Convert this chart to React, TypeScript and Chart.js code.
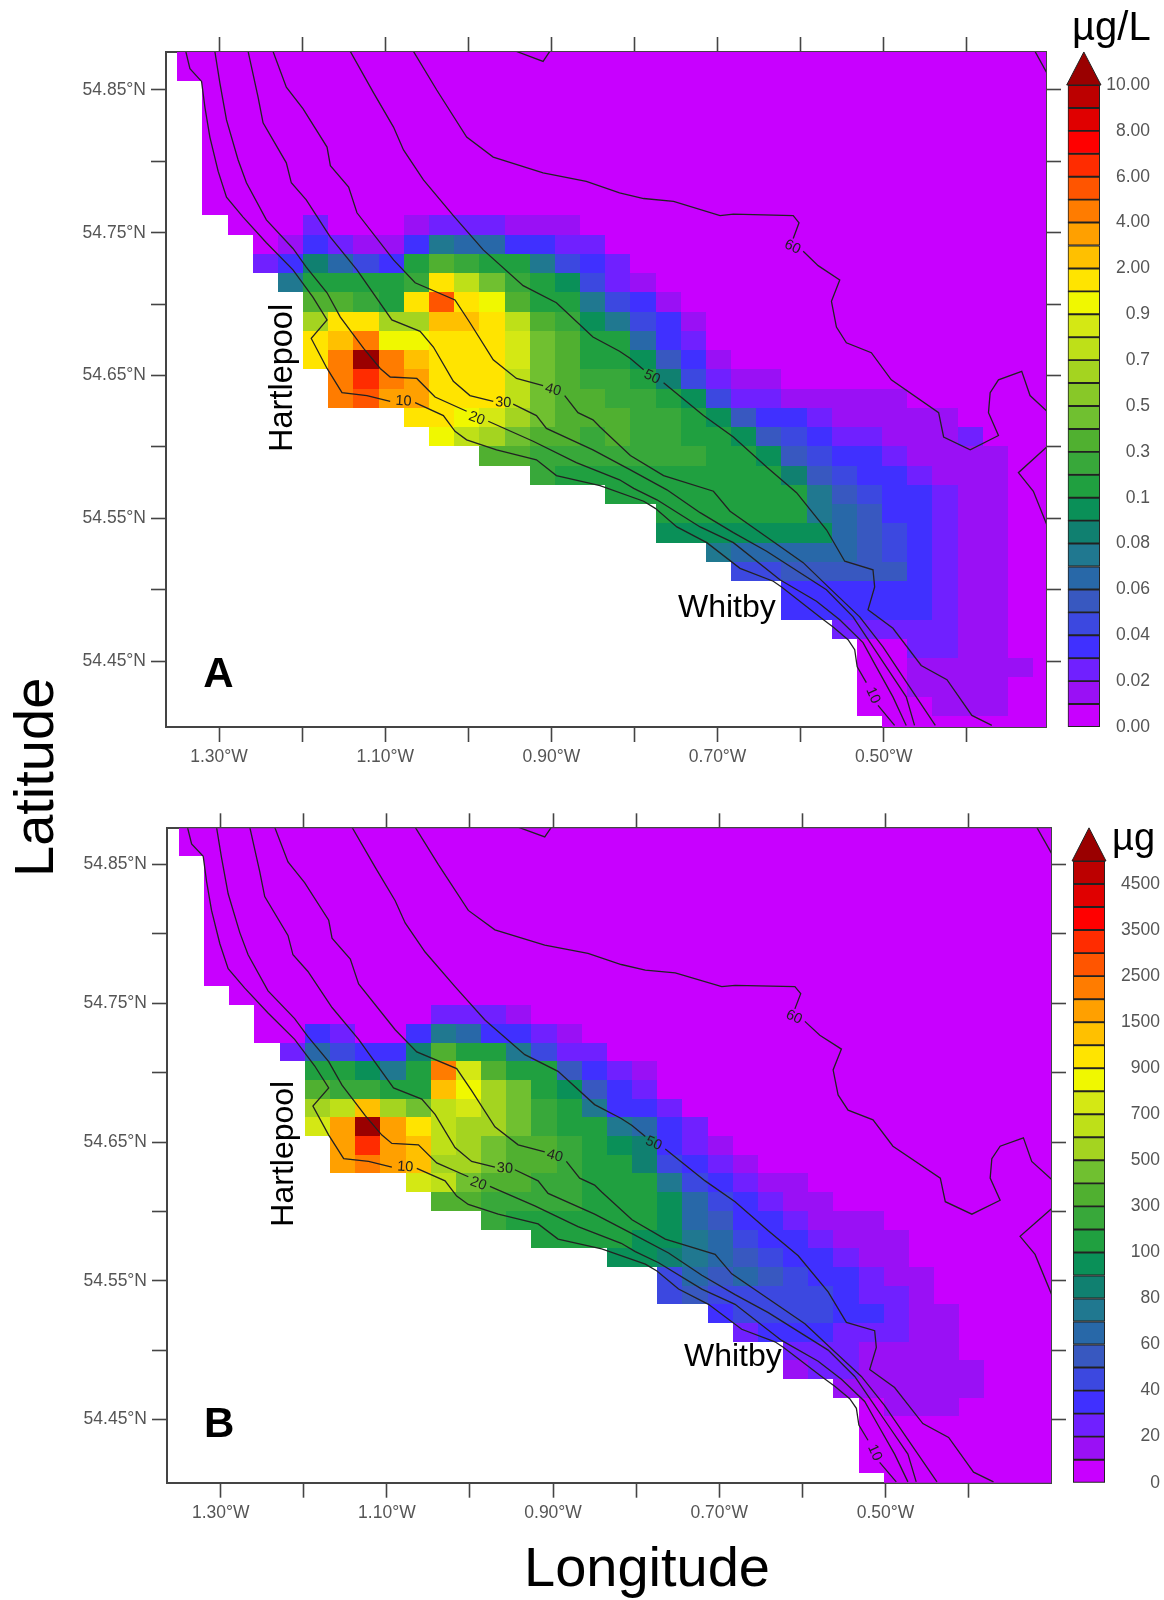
import React, { useEffect, useRef } from 'react';
import { Chart, registerables } from 'chart.js';

Chart.register(...registerables);

const FONT = "'Liberation Sans', Arial, sans-serif";

// Colour levels, lowest to highest; the last one is the over-range arrow.
const levelCodes = '0123456789abcdxefghijklmnopqr';
const levelColors = [
  '#c800ff', '#9a10f5', '#7020ff', '#4030ff', '#3c48e0', '#3858c0', '#2868a8', '#207890', '#108070',
  '#0a9058', '#20a040', '#38a83a', '#50b030', '#70c030', '#88c828', '#a4d420', '#bee018', '#d4e814',
  '#f0f800', '#ffe400', '#ffc000', '#ffa000', '#ff7c00', '#ff5500', '#ff2c00', '#ff0000', '#e00000',
  '#bc0000', '#9a0000',
];

const lonTicks = [-1.3, -1.2, -1.1, -1.0, -0.9, -0.8, -0.7, -0.6, -0.5, -0.4];
const lonLabels = ['1.30°W', '', '1.10°W', '', '0.90°W', '', '0.70°W', '', '0.50°W', ''];
const latTicks = [54.45, 54.5, 54.55, 54.6, 54.65, 54.7, 54.75, 54.8, 54.85];
const latLabels = ['54.45°N', '', '54.55°N', '', '54.65°N', '', '54.75°N', '', '54.85°N'];

const legendLabelsA = ['0.00', '0.02', '0.04', '0.06', '0.08', '0.1', '0.3', '0.5', '0.7', '0.9', '2.00', '4.00', '6.00', '8.00', '10.00'];
const legendLabelsB = ['0', '20', '40', '60', '80', '100', '300', '500', '700', '900', '1500', '2500', '3500', '4500'];
const legendBandsA = [0, 1, 2, 3, 4, 5, 6, 7, 8, 9, 10, 11, 12, 13, 14, 15, 16, 17, 18, 19, 20, 21, 22, 23, 24, 25, 26, 27];
const legendBandsB = [0, 1, 2, 3, 4, 5, 6, 7, 8, 9, 10, 11, 12, 13, 15, 16, 17, 18, 19, 20, 21, 22, 23, 24, 25, 26, 27];

// Model grid: west edge / north edge of the first cell and the cell size, in degrees.
const gridLon0 = -1.3502;
const gridLat0 = 54.8835;
const gridDLon = 0.03029;
const gridDLat = 0.01348;
const gridCols = 35;

// First sea column of each grid row (everything west of it is land).
const seaStart = [0, 0, 1, 1, 1, 1, 1, 1, 1, 2, 3, 3, 4, 5, 5, 5, 5, 6, 6, 9, 10, 12, 14, 17, 19, 19, 21, 22, 24, 24, 26, 27, 27, 27, 27, 28];

// Level codes per row from the first sea column; the remaining columns are level 0.
const rowsA = [
  '', '', '', '', '', '', '', '', '',
  '00020001222111',
  '01321137663322',
  '238643acbaa7432',
  '7aaaabifdba9421',
  'ccbaimihcaa7431',
  'eiieejjifcb97431',
  'ijlhhiiigdcaa632',
  'ilrljiiigdcaa9531',
  'lnlkiiifdcbba84211',
  'lmkkiiifdccbba942211111',
  'iihgedcccbba9533211111',
  'hfedccbcbbaa9543221112',
  'ccbbbbbbbaa9543321111',
  'baaaaaaaaa854332111',
  'aaaaaaaa75433211',
  'aaaaaa76533211',
  '99999996543211',
  '766666543211',
  '44555553211',
  '333333211',
  '333333211',
  '2222211',
  '002211',
  '0011111',
  '001111',
  '000111',
  '',
];
const rowsB = [
  '', '', '', '', '', '', '', '', '', '',
  '00000002221',
  '0032003763321',
  '264338caa7422',
  'aa97algcaa5321',
  'cbbaajheda9532',
  'efjedfgedba7332',
  'gkrkifeedbaa7632',
  'knkjfedccba98321',
  'klkjeedccbaa84321',
  'gfdccbbaaa743211',
  'ccbbbbaaa9643211',
  'baaaaaa965332111',
  'aaaa99764332111',
  '998765433211',
  '46565433211',
  '45444443221',
  '3444433211',
  '233322211',
  '2221111',
  '12211111',
  '111111',
  '0111',
  '', '', '', '',
];

// Depth contours as [longitude, latitude]; null breaks the line where a label sits.
const contour10 = [[-1.34, 54.877], [-1.335, 54.865], [-1.321, 54.856], [-1.317, 54.838], [-1.311, 54.817], [-1.301, 54.793], [-1.291, 54.775], [-1.271, 54.761], [-1.243, 54.743], [-1.211, 54.724], [-1.187, 54.705], [-1.17, 54.689], [-1.189, 54.676], [-1.17, 54.655], [-1.152, 54.638], [-1.122, 54.636], [-1.094, 54.632], null, [-1.064, 54.631], [-1.03, 54.622], [-1.016, 54.611], [-1.002, 54.605], [-0.966, 54.598], [-0.918, 54.591], [-0.894, 54.58], [-0.8415, 54.573], [-0.789, 54.562], [-0.775, 54.557], [-0.749, 54.544], [-0.713, 54.533], [-0.673, 54.515], [-0.633, 54.506], [-0.623, 54.502], [-0.575, 54.48], [-0.561, 54.474], [-0.543, 54.465], [-0.535, 54.458], [-0.532, 54.446], [-0.521, 54.435], null, [-0.507, 54.419], [-0.487, 54.405]];
const contour20 = [[-1.305, 54.877], [-1.299, 54.855], [-1.291, 54.829], [-1.277, 54.801], [-1.267, 54.785], [-1.243, 54.759], [-1.211, 54.739], [-1.195, 54.726], [-1.17, 54.708], [-1.154, 54.691], [-1.126, 54.669], [-1.106, 54.655], [-1.094, 54.649], [-1.062, 54.648], [-1.04, 54.635], [-1.002, 54.625], null, [-0.976, 54.618], [-0.922, 54.604], [-0.87, 54.589], [-0.818, 54.577], [-0.801, 54.571], [-0.773, 54.563], [-0.721, 54.544], [-0.681, 54.533], [-0.625, 54.507], [-0.581, 54.492], [-0.553, 54.479], [-0.525, 54.463], [-0.509, 54.446], [-0.489, 54.425], [-0.473, 54.405]];
const contour30 = [[-1.265, 54.877], [-1.253, 54.845], [-1.247, 54.827], [-1.219, 54.799], [-1.213, 54.785], [-1.195, 54.773], [-1.166, 54.747], [-1.134, 54.724], [-1.092, 54.689], [-1.058, 54.681], [-1.042, 54.67], [-1.018, 54.646], [-0.998, 54.636], [-0.97, 54.632], null, [-0.946, 54.63], [-0.918, 54.622], [-0.906, 54.613], [-0.85, 54.598], [-0.805, 54.584], [-0.761, 54.57], [-0.721, 54.554], [-0.681, 54.54], [-0.641, 54.527], [-0.569, 54.5], [-0.537, 54.481], [-0.521, 54.467], [-0.497, 54.446], [-0.473, 54.425], [-0.463, 54.405]];
const contour40 = [[-1.235, 54.877], [-1.219, 54.852], [-1.199, 54.837], [-1.17, 54.81], [-1.166, 54.797], [-1.144, 54.782], [-1.134, 54.764], [-1.09, 54.731], [-1.064, 54.715], [-1.016, 54.703], [-0.998, 54.687], [-0.97, 54.661], [-0.942, 54.648], [-0.91, 54.643], null, [-0.884, 54.636], [-0.868, 54.624], [-0.85, 54.619], [-0.8415, 54.614], [-0.805, 54.594], [-0.765, 54.58], [-0.705, 54.569], [-0.685, 54.555], [-0.641, 54.537], [-0.597, 54.519], [-0.565, 54.501], [-0.529, 54.481], [-0.501, 54.46], [-0.469, 54.432], [-0.438, 54.405]];
const contour50 = [[-1.142, 54.877], [-1.114, 54.848], [-1.09, 54.824], [-1.078, 54.808], [-1.054, 54.787], [-1.018, 54.762], [-0.982, 54.738], [-0.934, 54.713], [-0.894, 54.701], [-0.85, 54.677], [-0.818, 54.667], [-0.805, 54.662], [-0.789, 54.654], null, [-0.765, 54.645], [-0.717, 54.622], [-0.681, 54.607], [-0.641, 54.586], [-0.605, 54.568], [-0.569, 54.542], [-0.547, 54.52], [-0.513, 54.514], [-0.511, 54.502], [-0.519, 54.486], [-0.489, 54.473], [-0.455, 54.447], [-0.424, 54.437], [-0.394, 54.412], [-0.37, 54.405]];
const contour60 = [[-1.066, 54.877], [-1.038, 54.85], [-1.002, 54.817], [-0.97, 54.803], [-0.91, 54.792], [-0.858, 54.786], [-0.818, 54.778], [-0.789, 54.774], [-0.753, 54.772], [-0.697, 54.762], [-0.681, 54.763], [-0.609, 54.762], [-0.602, 54.757], [-0.609, 54.746], null, [-0.597, 54.737], [-0.579, 54.727], [-0.553, 54.717], [-0.563, 54.702], [-0.557, 54.684], [-0.545, 54.673], [-0.515, 54.666], [-0.491, 54.647], [-0.434, 54.624], [-0.428, 54.607], [-0.396, 54.598], [-0.362, 54.608], [-0.374, 54.624], [-0.372, 54.638], [-0.362, 54.647], [-0.334, 54.653], [-0.324, 54.636], [-0.3, 54.623]];
const contour60East = [[-0.3, 54.602], [-0.338, 54.582], [-0.32, 54.569], [-0.3, 54.54]];
const contour60Top = [[-0.942, 54.877], [-0.91, 54.87], [-0.902, 54.877]];
const contour60Corner = [[-0.318, 54.877], [-0.3, 54.858]];
const contours = [contour10, contour20, contour30, contour40, contour50, contour60, contour60East, contour60Top, contour60Corner];

const contourLabels = [
  { text: '10', lon: -1.078, lat: 54.632, angle: 3 },
  { text: '20', lon: -0.99, lat: 54.62, angle: 20 },
  { text: '30', lon: -0.958, lat: 54.631, angle: 3 },
  { text: '40', lon: -0.898, lat: 54.64, angle: 15 },
  { text: '50', lon: -0.779, lat: 54.649, angle: 25 },
  { text: '60', lon: -0.61, lat: 54.74, angle: 25 },
  { text: '10', lon: -0.513, lat: 54.426, angle: 65 },
];

const panelA = {
  rows: rowsA,
  width: 1064, height: 790, top: 0,
  plotLeft: 166, paddingTop: 37, paddingBottom: 3,
  lonMin: -1.3638, lonMax: -0.3048, latMin: 54.4039, latMax: 54.8766,
  places: [
    { text: 'Hartlepool', lon: -1.2122, lat: 54.5965, font: '32.5px', angle: -90 },
    { text: 'Whitby', lon: -0.7477, lat: 54.481, font: '32px', angle: 0 },
    { text: 'A', lon: -1.319, lat: 54.432, font: 'bold 42px', angle: 0 },
  ],
};
const panelB = {
  rows: rowsB,
  width: 1069, height: 770, top: 790,
  plotLeft: 167, paddingTop: 23.3, paddingBottom: 17.3,
  lonMin: -1.3646, lonMax: -0.3008, latMin: 54.4044, latMax: 54.8762,
  places: [
    { text: 'Hartlepool', lon: -1.2134, lat: 54.589, font: '32px', angle: -90 },
    { text: 'Whitby', lon: -0.7425, lat: 54.4886, font: '32px', angle: 0 },
    { text: 'B', lon: -1.32, lat: 54.4376, font: 'bold 42px', angle: 0 },
  ],
};

const legendA = { bands: legendBandsA, labels: legendLabelsA, left: 1060, top: 45, width: 90, height: 700, barLeft: 7.7, axisWidth: 50, paddingTop: 40, paddingBottom: 18, tickPadding: 0 };
const legendB = { bands: legendBandsB, labels: legendLabelsB, left: 1065, top: 820, width: 95, height: 690, barLeft: 8, axisWidth: 55, paddingTop: 41, paddingBottom: 27.3, tickPadding: 9.5 };

function cellsFrom(rows: string[]) {
  const cells: any[] = [];
  rows.forEach((row, j) => {
    const start = seaStart[j];
    for (let c = start; c < gridCols; c++) {
      const code = row[c - start] ?? '0';
      cells.push({
        x: gridLon0 + gridDLon * c,
        y: gridLat0 - gridDLat * j,
        level: levelCodes.indexOf(code),
      });
    }
  });
  return cells;
}

function makeMap(canvas: HTMLCanvasElement, panel: any) {
  const frame = (extra: any) => ({
    type: 'linear',
    bounds: 'data',
    border: { display: true, color: '#444', width: 2 },
    grid: { drawOnChartArea: false, drawTicks: true, tickLength: 15, tickColor: '#444', tickWidth: 1.6 },
    ...extra,
  });
  const xCommon = { axis: 'x', min: panel.lonMin, max: panel.lonMax, afterBuildTicks: (s: any) => { s.ticks = lonTicks.map((value) => ({ value })); } };
  const yCommon = { axis: 'y', min: panel.latMin, max: panel.latMax, afterBuildTicks: (s: any) => { s.ticks = latTicks.map((value) => ({ value })); } };
  const tickFont = { family: FONT, size: 17.5 };

  const heatPlugin = {
    id: 'heatCells',
    beforeDatasetsDraw(chart: any) {
      const { ctx, chartArea: a, scales } = chart;
      const x = scales.x;
      const y = scales.y;
      ctx.save();
      ctx.beginPath();
      ctx.rect(a.left, a.top, a.right - a.left, a.bottom - a.top);
      ctx.clip();
      chart.data.datasets[0].data.forEach((cell: any) => {
        const x0 = Math.round(x.getPixelForValue(cell.x));
        const x1 = Math.round(x.getPixelForValue(cell.x + gridDLon));
        const y0 = Math.round(y.getPixelForValue(cell.y));
        const y1 = Math.round(y.getPixelForValue(cell.y - gridDLat));
        ctx.fillStyle = levelColors[cell.level];
        ctx.fillRect(x0, y0, x1 - x0, y1 - y0);
      });
      ctx.restore();
    },
  };
  const textPlugin = {
    id: 'mapText',
    afterDatasetsDraw(chart: any) {
      const { ctx, scales } = chart;
      const drawText = (t: any, font: string, color: string, align: any, baseline: any) => {
        ctx.save();
        ctx.translate(scales.x.getPixelForValue(t.lon), scales.y.getPixelForValue(t.lat));
        ctx.rotate((t.angle * Math.PI) / 180);
        ctx.font = font;
        ctx.fillStyle = color;
        ctx.textAlign = align;
        ctx.textBaseline = baseline;
        ctx.fillText(t.text, 0, 0);
        ctx.restore();
      };
      contourLabels.forEach((t) => drawText(t, `14.5px ${FONT}`, '#222', 'center', 'middle'));
      panel.places.forEach((t: any) => drawText(t, `${t.font} ${FONT}`, '#000', 'left', 'alphabetic'));
    },
  };

  return new Chart(canvas, {
    type: 'scatter',
    data: {
      datasets: [
        { label: 'cells', data: cellsFrom(panel.rows), pointRadius: 0, showLine: false },
        ...contours.map((line, i) => ({
          label: `contour ${i}`,
          data: line.map((p) => (p ? { x: p[0], y: p[1] } : { x: NaN, y: NaN })),
          showLine: true,
          pointRadius: 0,
          borderColor: '#222',
          borderWidth: 1.3,
          tension: 0,
          fill: false,
        })),
      ],
    },
    options: {
      animation: false,
      responsive: false,
      events: [],
      layout: { autoPadding: false, padding: { left: 0, right: 3, top: panel.paddingTop, bottom: panel.paddingBottom } },
      plugins: { legend: { display: false }, tooltip: { enabled: false }, title: { display: false } },
      scales: {
        x: frame({
          ...xCommon,
          position: 'bottom',
          afterFit: (s: any) => { s.height = 60; },
          ticks: {
            autoSkip: false, maxRotation: 0, minRotation: 0, padding: 5, color: '#555', font: tickFont,
            callback: (_v: any, i: number) => lonLabels[i],
          },
        }),
        x2: frame({ ...xCommon, position: 'top', afterFit: (s: any) => { s.height = 15; }, ticks: { display: false } }),
        y: frame({
          ...yCommon,
          position: 'left',
          afterFit: (s: any) => { s.width = panel.plotLeft; },
          ticks: {
            autoSkip: false, padding: 5, color: '#555', font: tickFont,
            callback: (_v: any, i: number) => latLabels[i],
          },
        }),
        y2: frame({ ...yCommon, position: 'right', afterFit: (s: any) => { s.width = 15; }, ticks: { display: false } }),
      },
    } as any,
    plugins: [heatPlugin, textPlugin],
  } as any);
}

function makeLegend(canvas: HTMLCanvasElement, legend: any) {
  const n = legend.bands.length;
  const arrowPlugin = {
    id: 'overArrow',
    afterDatasetsDraw(chart: any) {
      const { ctx, chartArea: a, scales } = chart;
      const base = scales.y.getPixelForValue(n);
      const tip = scales.y.getPixelForValue(n + 1.44);
      ctx.save();
      ctx.beginPath();
      ctx.moveTo(a.left - 1, base);
      ctx.lineTo((a.left + a.right) / 2, tip);
      ctx.lineTo(a.right + 1, base);
      ctx.closePath();
      ctx.fillStyle = levelColors[levelColors.length - 1];
      ctx.fill();
      ctx.strokeStyle = '#222';
      ctx.lineWidth = 1;
      ctx.stroke();
      ctx.restore();
    },
  };
  return new Chart(canvas, {
    type: 'bar',
    data: {
      labels: ['levels'],
      datasets: legend.bands.map((b: number) => ({
        label: String(b),
        data: [1],
        backgroundColor: levelColors[b],
        borderColor: '#222',
        borderWidth: 1.3,
        borderSkipped: false,
        barPercentage: 1,
        categoryPercentage: 1,
      })),
    },
    options: {
      animation: false,
      responsive: false,
      events: [],
      layout: { autoPadding: false, padding: { left: legend.barLeft, right: 0, top: legend.paddingTop, bottom: legend.paddingBottom } },
      plugins: { legend: { display: false }, tooltip: { enabled: false }, title: { display: false } },
      scales: {
        x: { stacked: true, display: false },
        y: {
          stacked: true,
          position: 'right',
          min: 0,
          max: n,
          bounds: 'data',
          grid: { display: false, drawTicks: false },
          border: { display: false },
          afterFit: (s: any) => { s.width = legend.axisWidth; },
          afterBuildTicks: (s: any) => { s.ticks = legend.labels.map((_: string, i: number) => ({ value: i * 2 })); },
          ticks: {
            autoSkip: false, crossAlign: 'far', padding: legend.tickPadding, color: '#555',
            font: { family: FONT, size: 17.5 },
            callback: (_v: any, i: number) => legend.labels[i],
          },
        },
      },
    } as any,
    plugins: [arrowPlugin],
  } as any);
}

const bigText = (size: number): React.CSSProperties => ({
  position: 'absolute',
  fontFamily: FONT,
  fontSize: size,
  lineHeight: 1,
  color: '#000',
  whiteSpace: 'nowrap',
});
const abs = (left: number, top: number): React.CSSProperties => ({ position: 'absolute', left, top, display: 'block' });

export default function App() {
  const mapARef = useRef<HTMLCanvasElement>(null);
  const mapBRef = useRef<HTMLCanvasElement>(null);
  const legARef = useRef<HTMLCanvasElement>(null);
  const legBRef = useRef<HTMLCanvasElement>(null);

  useEffect(() => {
    const charts = [
      makeMap(mapARef.current!, panelA),
      makeMap(mapBRef.current!, panelB),
      makeLegend(legARef.current!, legendA),
      makeLegend(legBRef.current!, legendB),
    ];
    return () => charts.forEach((c) => c.destroy());
  }, []);

  return (
    <div style={{ position: 'absolute', left: 0, top: 0, width: 1164, height: 1600, background: '#fff', overflow: 'hidden' }}>
      <canvas ref={mapARef} width={panelA.width} height={panelA.height} style={abs(0, panelA.top)} />
      <canvas ref={mapBRef} width={panelB.width} height={panelB.height} style={abs(0, panelB.top)} />
      <canvas ref={legARef} width={legendA.width} height={legendA.height} style={abs(legendA.left, legendA.top)} />
      <canvas ref={legBRef} width={legendB.width} height={legendB.height} style={abs(legendB.left, legendB.top)} />
      <div style={{ ...bigText(56), left: 5.6, top: 877, transformOrigin: '0 0', transform: 'rotate(-90deg)' }}>Latitude</div>
      <div style={{ ...bigText(56), left: 524, top: 1538.6 }}>Longitude</div>
      <div style={{ ...bigText(40), left: 1072, top: 6 }}>µg/L</div>
      <div style={{ ...bigText(38), left: 1112, top: 818 }}>µg</div>
    </div>
  );
}
